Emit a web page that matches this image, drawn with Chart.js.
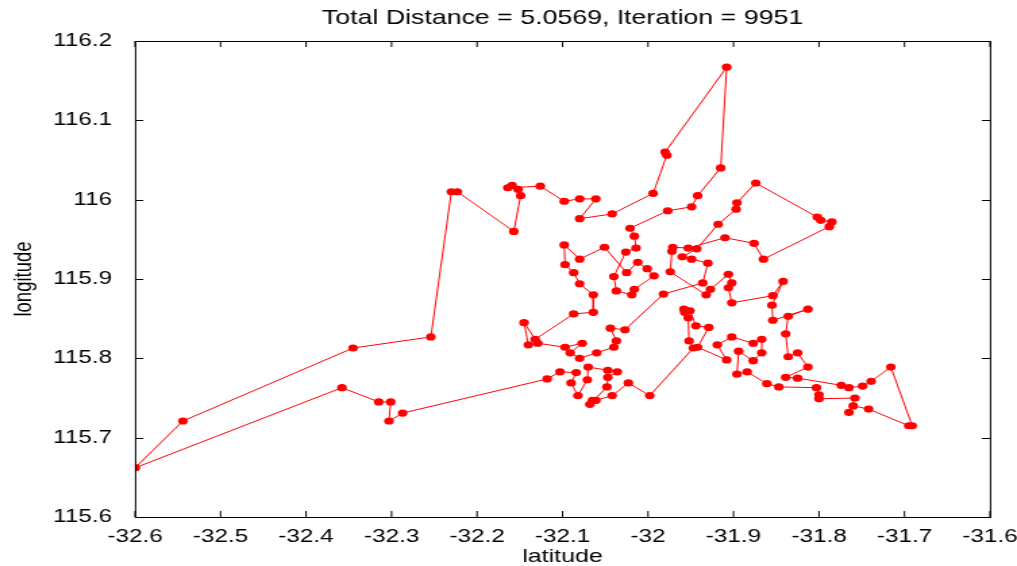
<!DOCTYPE html>
<html><head><meta charset="utf-8">
<script src="https://cdn.jsdelivr.net/npm/chart.js@4.4.1/dist/chart.umd.min.js"></script>
<style>
html,body{margin:0;padding:0;background:#fff;overflow:hidden;}
#wrap{position:absolute;left:0;top:0;width:753px;height:566px;transform:scaleX(1.3506);transform-origin:0 0;}
</style></head><body>
<div id="wrap"><canvas id="c" width="753" height="566"></canvas></div>
<script>
// tour order (latitude = x, longitude = y)
const latitude = [
-32.600,-32.544,-32.345,-32.254,-32.230,-32.223,-32.157,-32.149,-32.152,-32.159,
-32.164,-32.126,-32.098,-32.080,-32.061,-32.080,-32.042,-31.994,-31.978,-31.980,
-31.908,-31.915,-31.942,-31.949,-31.977,-32.021,-32.016,-32.014,-32.026,-32.040,
-32.037,-32.019,-32.016,-31.993,-32.001,-32.012,-32.025,-32.051,-32.080,-32.098,
-32.097,-32.087,-32.080,-32.064,-32.064,-32.087,-32.132,-32.145,-32.140,-32.129,
-32.097,-32.077,-32.091,-32.080,-32.060,-32.040,-32.037,-32.044,-32.027,-31.982,
-31.936,-31.930,-31.949,-31.960,-31.943,-31.918,-31.897,-31.896,-31.874,-31.802,
-31.798,-31.785,-31.788,-31.865,-31.876,-31.910,-31.953,-31.971,-31.972,-31.974,
-31.932,-31.927,-31.906,-31.902,-31.906,-31.902,-31.854,-31.842,-31.855,-31.854,
-31.813,-31.836,-31.839,-31.836,-31.825,-31.813,-31.839,-31.825,-31.774,-31.765,
-31.749,-31.739,-31.716,-31.691,-31.695,-31.742,-31.760,-31.765,-31.758,-31.800,
-31.800,-31.803,-31.847,-31.861,-31.884,-31.896,-31.894,-31.877,-31.867,-31.867,
-31.877,-31.902,-31.919,-31.908,-31.942,-31.929,-31.944,-31.951,-31.958,-31.957,
-31.953,-31.952,-31.947,-31.998,-32.023,-32.042,-32.061,-32.065,-32.068,-32.048,
-32.047,-32.036,-32.047,-32.070,-32.071,-32.082,-32.090,-32.084,-32.103,-32.118,
-32.287,-32.303,-32.301,-32.315,-32.358,-32.600
];
const longitude = [
115.662,115.721,115.813,115.827,116.010,116.010,115.960,116.005,116.013,116.018,
116.015,116.017,115.998,116.001,116.001,115.976,115.982,116.008,116.056,116.060,
116.167,116.040,116.005,115.991,115.986,115.964,115.954,115.939,115.934,115.903,
115.885,115.880,115.887,115.904,115.913,115.921,115.908,115.940,115.925,115.943,
115.918,115.908,115.894,115.880,115.858,115.856,115.824,115.845,115.817,115.819,
115.814,115.819,115.807,115.800,115.807,115.814,115.822,115.838,115.836,115.881,
115.895,115.920,115.925,115.928,115.938,115.969,115.988,115.996,116.021,115.978,
115.974,115.972,115.966,115.925,115.945,115.952,115.939,115.940,115.935,115.909,
115.880,115.887,115.906,115.895,115.889,115.870,115.879,115.897,115.867,115.848,
115.862,115.853,115.831,115.802,115.807,115.789,115.776,115.775,115.766,115.763,
115.765,115.771,115.789,115.715,115.715,115.736,115.740,115.732,115.750,115.749,
115.754,115.763,115.764,115.768,115.783,115.780,115.809,115.797,115.807,115.824,
115.819,115.827,115.817,115.798,115.814,115.839,115.841,115.860,115.862,115.858,
115.851,115.822,115.813,115.753,115.769,115.753,115.747,115.747,115.742,115.764,
115.776,115.783,115.785,115.789,115.773,115.753,115.769,115.782,115.783,115.774,
115.731,115.721,115.745,115.745,115.763,115.662
];
const xTickValues = [-32.6,-32.5,-32.4,-32.3,-32.2,-32.1,-32.0,-31.9,-31.8,-31.7,-31.6];
const xTickLabels = ['-32.6','-32.5','-32.4','-32.3','-32.2','-32.1','-32','-31.9','-31.8','-31.7','-31.6'];
const yTickValues = [115.6,115.7,115.8,115.9,116.0,116.1,116.2];
const yTickLabels = ['115.6','115.7','115.8','115.9','116','116.1','116.2'];
const titleText = 'Total Distance = 5.0569, Iteration = 9951';
const xTitle = 'latitude';
const yTitle = 'longitude';

Chart.defaults.font.family = '"Liberation Sans", Arial, sans-serif';
Chart.defaults.color = '#000';

const framePlugin = {
  id: 'frame',
  afterDraw(chart) {
    const {ctx, chartArea: a, scales: {x, y}} = chart;
    ctx.save();
    ctx.strokeStyle = '#000';
    ctx.lineWidth = 1;
    ctx.strokeRect(a.left + 0.4, a.top + 0.5, a.right - a.left, a.bottom - a.top);
    ctx.beginPath();
    x.ticks.forEach(t => {
      const p = x.getPixelForValue(t.value);
      ctx.moveTo(p, a.bottom); ctx.lineTo(p, a.bottom - 6);
      ctx.moveTo(p, a.top); ctx.lineTo(p, a.top + 6);
    });
    y.ticks.forEach(t => {
      const p = Math.round(y.getPixelForValue(t.value)) + 0.5;
      ctx.moveTo(a.left, p); ctx.lineTo(a.left + 6, p);
      ctx.moveTo(a.right, p); ctx.lineTo(a.right - 6, p);
    });
    ctx.stroke();
    ctx.fillStyle = '#000';
    ctx.font = '19.8px "Liberation Sans", Arial, sans-serif';
    ctx.textAlign = 'center';
    ctx.textBaseline = 'middle';
    ctx.fillText(titleText, (a.left + a.right) / 2, 19);
    ctx.restore();
  }
};

new Chart(document.getElementById('c'), {
  type: 'scatter',
  data: {
    datasets: [{
      data: latitude.map((v, i) => ({x: v, y: longitude[i]})),
      showLine: true,
      borderColor: '#ff0000',
      borderWidth: 1,
      backgroundColor: '#ff0000',
      pointBackgroundColor: '#ff0000',
      pointBorderColor: '#ff0000',
      pointBorderWidth: 0,
      pointRadius: 3.6,
      tension: 0
    }]
  },
  options: {
    responsive: false,
    animation: false,
    layout: {padding: {top: 41, right: 20, left: 0, bottom: 0}},
    plugins: {legend: {display: false}, tooltip: {enabled: false}, title: {display: false}},
    scales: {
      x: {
        type: 'linear', min: -32.6, max: -31.6,
        afterBuildTicks: s => { s.ticks = xTickValues.map(v => ({value: v})); },
        afterFit: s => { s.height = 49; s.paddingLeft = 0; s.paddingRight = 0; },
        grid: {display: false, drawTicks: false},
        border: {display: false},
        ticks: {padding: 9, color: '#000', font: {size: 18}, maxRotation: 0, autoSkip: false,
                callback: (v, i) => xTickLabels[i]},
        title: {display: true, text: xTitle, color: '#000', font: {size: 18.5, lineHeight: 1.0}, padding: {top: 0, bottom: 0}}
      },
      y: {
        type: 'linear', min: 115.6, max: 116.2,
        afterBuildTicks: s => { s.ticks = yTickValues.map(v => ({value: v})); },
        afterFit: s => { s.width = 100; s.paddingTop = 0; s.paddingBottom = 0; },
        grid: {display: false, drawTicks: false},
        border: {display: false},
        ticks: {padding: 17, color: '#000', font: {size: 18}, autoSkip: false,
                callback: (v, i) => yTickLabels[i]},
        title: {display: true, text: yTitle, color: '#000', font: {size: 18.5}, padding: {top: 6.5, bottom: 0}}
      }
    }
  },
  plugins: [framePlugin]
});
</script>
</body></html>
